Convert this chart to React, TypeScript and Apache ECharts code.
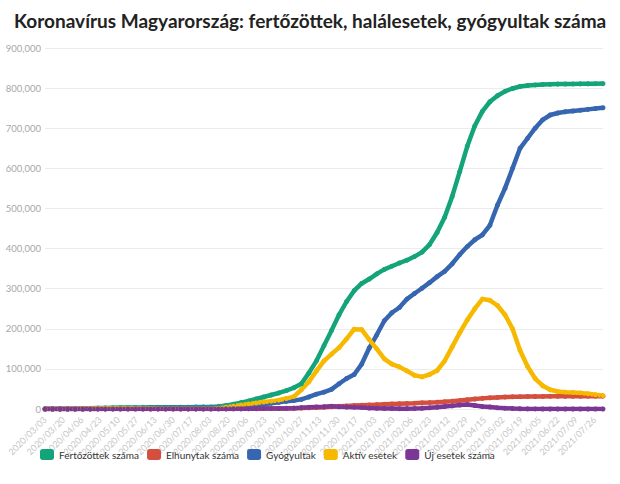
import React, { useEffect, useRef } from "react";
import * as echarts from "echarts";

// Daily categories start at 2020/03/03; sample values are read every 7 days.
const startDate = "2020/03/03";
const dayCount = 519;
const sampleStep = 7;

const titleText = "Koronavírus Magyarország: fertőzöttek, halálesetek, gyógyultak száma";
const seriesNames = ["Fertőzöttek száma", "Elhunytak száma", "Gyógyultak", "Aktív esetek", "Új esetek száma"];
const seriesColors = ["#14a47a", "#d4503e", "#3766b0", "#f6b900", "#7b3795"];

const yTicks = [0, 100000, 200000, 300000, 400000, 500000, 600000, 700000, 800000, 900000];

const confirmed = [
  0, 0, 100, 300, 600, 1000, 1600, 2200, 2800, 3200, 3500, 3800, 3950, 4050, 4100, 4150, 4200, 4250, 4350, 4500,
  4700, 4900, 5200, 6500, 9000, 12000, 16000, 20000, 25000, 30000, 35000, 40000, 46000, 53000, 63000, 90000,
  120000, 158000, 196000, 235000, 268000, 295000, 313000, 324000, 337000, 348000, 356000, 364000, 371000, 380000,
  391000, 410000, 440000, 478000, 530000, 592000, 655000, 706000, 742000, 766000, 781000, 792000, 799000, 804000,
  806500, 808000, 809000, 809500, 810000, 810200, 810400, 810600, 810800, 811000, 811200,
];

const deaths = [
  0, 0, 0, 0, 20, 60, 130, 230, 340, 420, 480, 520, 550, 570, 580, 590, 595, 598, 600, 605,
  610, 615, 620, 630, 650, 680, 720, 800, 900, 1000, 1150, 1350, 1600, 1900, 2300, 2900,
  3700, 4600, 5600, 6600, 7600, 8500, 9300, 10100, 10900, 11700, 12400, 13100, 13800, 14500,
  15300, 16100, 17000, 18100, 19400, 21000, 23000, 25000, 26500, 27800, 28900, 29700, 30300, 30700,
  31000, 31200, 31400, 31500, 31600, 31700, 31800, 31850, 31900, 31950, 32000,
];

const recovered = [
  0, 0, 0, 0, 0, 0, 100, 300, 500, 800, 1200, 1500, 1800, 2100, 2400, 2700, 2900, 3000, 3100, 3200,
  3300, 3400, 3600, 3800, 4000, 4500, 5500, 7000, 9000, 11500, 14500, 16500, 19000, 21000, 24000, 30000,
  37000, 42000, 49000, 63000, 76000, 86000, 112000, 152000, 185000, 220000, 240000, 253000, 274000, 288000,
  301000, 315000, 330000, 343000, 362000, 385000, 405000, 422000, 434000, 458000, 508000, 550000, 600000, 650000,
  675000, 700000, 721000, 733000, 738000, 741000, 743000, 745000, 747000, 749000, 751000,
];

const active = [
  0, 0, 100, 300, 550, 900, 1400, 1800, 2100, 2000, 1900, 1800, 1600, 1400, 1200, 1000, 850, 750, 700, 750,
  850, 900, 1000, 2000, 4500, 7000, 10000, 12500, 15000, 17500, 19500, 22000, 26000, 31000, 48000, 68000,
  95000, 120000, 137000, 153000, 175000, 199000, 198000, 173000, 150000, 125000, 112000, 105000, 95000, 84000,
  80000, 86000, 96000, 120000, 155000, 190000, 222000, 250000, 274000, 271000, 258000, 235000, 200000, 146000,
  106000, 76000, 58000, 48000, 43500, 42000, 41000, 40000, 38000, 35500, 33500,
];

const newCases = [
  0, 5, 10, 30, 40, 60, 50, 100, 80, 40, 35, 30, 15, 10, 10, 5, 4, 6, 15, 20,
  30, 25, 40, 130, 300, 550, 700, 800, 900, 1000, 1100, 1300, 1500, 2100, 3300, 4200,
  5200, 5600, 6800, 5600, 5000, 4600, 3900, 2400, 1900, 1500, 1200, 800, 900, 1300,
  1800, 2900, 4400, 6300, 7800, 9800, 11000, 8800, 6200, 4900, 3000, 2100, 1200, 600,
  300, 150, 80, 50, 30, 20, 30, 30, 40, 50, 60,
];

const seriesValues = [confirmed, deaths, recovered, active, newCases];

function buildDates(): string[] {
  const [y, m, d] = startDate.split("/").map(Number);
  const out: string[] = [];
  for (let i = 0; i < dayCount; i++) {
    const dt = new Date(Date.UTC(y, m - 1, d + i));
    const mm = String(dt.getUTCMonth() + 1).padStart(2, "0");
    const dd = String(dt.getUTCDate()).padStart(2, "0");
    out.push(`${dt.getUTCFullYear()}/${mm}/${dd}`);
  }
  return out;
}

const FONT = "Lato";

export default function App() {
  const ref = useRef<HTMLDivElement>(null);

  useEffect(() => {
    if (!ref.current) return;
    const chart = echarts.init(ref.current, undefined, { renderer: "svg" });
    const dates = buildDates();

    const series = seriesNames.map((name, si) => ({
      name,
      type: "line",
      data: seriesValues[si].map((v, i) => [i * sampleStep, v]),
      connectNulls: true,
      symbol: "circle",
      symbolSize: 5,
      showSymbol: true,
      showAllSymbol: true,
      lineStyle: { width: 4.5, color: seriesColors[si] },
      itemStyle: { color: seriesColors[si] },
      emphasis: { disabled: true },
    }));

    chart.setOption({
      animation: false,
      textStyle: { fontFamily: FONT },
      title: {
        text: titleText,
        left: 9,
        top: 6,
        textStyle: { fontFamily: FONT, fontSize: 19, fontWeight: "bold", color: "#222" },
      },
      grid: { left: 45, right: 17, top: 48, bottom: 75 },
      legend: {
        left: 35,
        top: 444,
        width: 580,
        icon: "roundRect",
        itemWidth: 14,
        itemHeight: 11,
        itemGap: 8,
        textStyle: { fontFamily: FONT, fontSize: 10, color: "#333" },
        data: seriesNames,
      },
      xAxis: {
        type: "category",
        data: dates,
        boundaryGap: false,
        axisLine: { show: false },
        axisTick: { show: false },
        splitLine: { show: false },
        axisLabel: {
          interval: 16,
          rotate: 45,
          color: "#c6c6c6",
          fontSize: 9,
          fontFamily: FONT,
          margin: 9,
        },
      },
      yAxis: {
        type: "value",
        min: yTicks[0],
        max: yTicks[yTicks.length - 1],
        interval: yTicks[1] - yTicks[0],
        axisLine: { show: false },
        axisTick: { show: false },
        splitLine: { lineStyle: { color: "#ececec", width: 1 } },
        axisLabel: {
          color: "#a8a8a8",
          fontSize: 9.5,
          fontFamily: FONT,
          margin: 4,
          formatter: (v: number) => v.toLocaleString("en-US"),
        },
      },
      series,
    });

    return () => chart.dispose();
  }, []);

  return (
    <div
      ref={ref}
      style={{ position: "fixed", left: 0, top: 0, width: 620, height: 484, background: "#fff" }}
    />
  );
}
